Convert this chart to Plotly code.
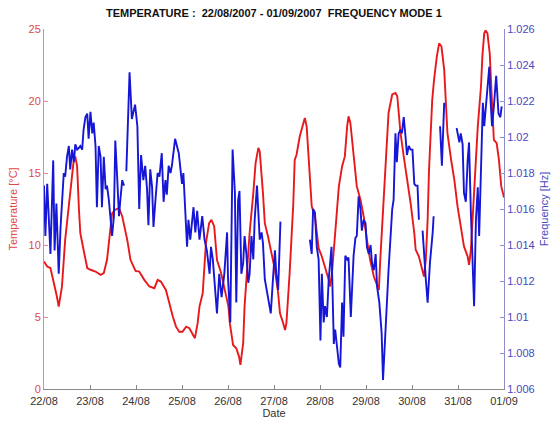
import pandas as pd
import plotly.graph_objects as go

# Days elapsed since 22/08/2007 00:00 and air temperature [°C]
temp_day = [0.00, 0.07, 0.14, 0.21, 0.28, 0.32, 0.39, 0.46, 0.54, 0.61, 0.65, 0.68, 0.72, 0.76, 0.79,
            0.86, 0.94, 1.01, 1.12, 1.23, 1.30, 1.37, 1.44, 1.48, 1.55, 1.63, 1.70, 1.81, 1.88, 1.99,
            2.07, 2.18, 2.29, 2.40, 2.47, 2.54, 2.65, 2.72, 2.80, 2.87, 2.94, 3.01, 3.09, 3.16, 3.23,
            3.28, 3.34, 3.38, 3.45, 3.49, 3.52, 3.59, 3.64, 3.70, 3.76, 3.85, 3.92, 4.01, 4.04, 4.11,
            4.18, 4.24, 4.27, 4.33, 4.36, 4.40, 4.47, 4.55, 4.60, 4.66, 4.69, 4.76, 4.80, 4.87, 4.95,
            5.02, 5.09, 5.13, 5.20, 5.24, 5.27, 5.34, 5.42, 5.45, 5.49, 5.56, 5.64, 5.67, 5.71, 5.77,
            5.82, 5.89, 5.97, 6.04, 6.11, 6.19, 6.22, 6.26, 6.33, 6.41, 6.48, 6.54, 6.59, 6.62, 6.66,
            6.73, 6.80, 6.88, 6.95, 7.02, 7.09, 7.17, 7.24, 7.28, 7.31, 7.39, 7.46, 7.49, 7.57, 7.64,
            7.68, 7.75, 7.82, 7.89, 7.97, 8.05, 8.08, 8.15, 8.23, 8.26, 8.30, 8.34, 8.37, 8.41, 8.44,
            8.48, 8.54, 8.59, 8.64, 8.70, 8.73, 8.77, 8.85, 8.92, 8.99, 9.06, 9.13, 9.21, 9.24, 9.28,
            9.35, 9.39, 9.43, 9.50, 9.53, 9.57, 9.60, 9.64, 9.69, 9.74, 9.78, 9.84, 9.89, 9.94, 10.00]
temperature = [8.85, 8.5, 8.4, 7.46, 6.42, 5.72, 7.1, 10.36, 12.9, 15.2, 16.0, 16.15, 15.46, 12.45, 10.8,
               9.67, 8.4, 8.28, 8.16, 7.93, 8.05, 8.97, 10.83, 12.2, 12.45, 12.57, 12.0, 10.36, 8.97, 8.2,
               8.16, 7.58, 7.12, 7.0, 7.58, 7.46, 6.88, 5.96, 5.03, 4.33, 3.98, 3.98, 4.33, 4.22, 3.76,
               3.53, 4.57, 5.72, 6.65, 8.5, 10.13, 11.52, 11.75, 11.29, 8.97, 8.05, 7.12, 5.72, 4.57, 3.06,
               2.83, 2.25, 1.67, 3.18, 5.72, 7.81, 10.83, 13.6, 15.7, 16.74, 16.5, 13.6, 11.52, 10.59, 9.44,
               8.28, 6.65, 5.26, 4.57, 4.1, 4.57, 8.05, 12.9, 15.9, 16.27, 17.55, 18.48, 18.82, 18.24, 15.46,
               12.68, 11.98, 9.78, 9.2, 8.5, 7.58, 7.12, 8.05, 10.83, 14.07, 15.46, 16.15, 18.24, 18.94, 18.48,
               16.15, 14.07, 13.14, 11.98, 10.36, 8.97, 7.81, 7.12, 6.88, 8.97, 13.6, 17.32, 19.17, 20.45, 20.56,
               20.33, 17.78, 16.15, 14.76, 12.9, 10.83, 9.67, 9.2, 8.28, 7.81, 8.97, 11.75, 15.23, 18.0, 20.1,
               21.49, 23.1, 24.0, 23.8, 22.18, 19.87, 17.78, 15.92, 14.53, 12.68, 11.29, 9.9, 9.2, 8.62, 9.67,
               13.6, 15.92, 18.24, 21.02, 23.1, 24.7, 24.9, 24.7, 23.3, 19.87, 17.3, 17.08, 15.92, 14.07, 13.3]

# Days elapsed and first-mode frequency [Hz]; None marks missing records
freq_day = [0.00, 0.03, 0.07, 0.10, 0.14, 0.20, 0.23, 0.27, 0.32, 0.36, 0.39, 0.43, 0.46, 0.50, 0.54,
            0.57, 0.61, 0.65, 0.68, 0.72, 0.76, 0.79, 0.83, 0.86, 0.90, 0.94, 0.97, 1.01, 1.05, 1.08,
            1.12, 1.15, 1.19, 1.23, 1.26, 1.30, 1.34, 1.37, 1.41, 1.44, 1.48, 1.52, 1.55, 1.59, 1.63,
            1.66, 1.70, 1.74, 1.76, 1.79, 1.86, 1.91, 1.98, 2.03, 2.07, 2.11, 2.16, 2.20, 2.24, 2.27,
            2.31, 2.35, 2.38, 2.42, 2.47, 2.51, 2.56, 2.60, 2.64, 2.67, 2.71, 2.75, 2.78, 2.85, 2.93,
            3.00, 3.03, 3.11, 3.14, 3.18, 3.25, 3.29, 3.33, 3.38, 3.44, 3.49, 3.54, 3.60, 3.63, 3.67,
            3.70, 3.76, 3.81, 3.86, 3.92, 3.98, 4.00, 4.05, 4.10, 4.15, 4.18, 4.22, 4.25, 4.29, 4.33,
            4.36, 4.40, 4.44, 4.47, 4.51, 4.55, 4.58, 4.63, 4.66, 4.69, 4.73, 4.76, 4.80, 4.87, 4.93,
            4.98, 5.02, 5.05, 5.09, 5.14, 5.50, 5.78, 5.82, 5.85, 5.89, 5.93, 5.97, 6.01, 6.04, 6.08,
            6.11, 6.15, 6.19, 6.25, 6.30, 6.33, 6.37, 6.41, 6.44, 6.48, 6.51, 6.55, 6.59, 6.62, 6.67,
            6.73, 6.77, 6.80, 6.84, 6.88, 6.91, 6.95, 6.99, 7.02, 7.06, 7.10, 7.13, 7.17, 7.21, 7.24,
            7.29, 7.34, 7.37, 7.42, 7.49, 7.57, 7.60, 7.64, 7.67, 7.71, 7.75, 7.78, 7.82, 7.86, 7.89,
            7.93, 7.97, 8.01, 8.05, 8.08, 8.12, 8.15, 8.19, 8.23, 8.26, 8.30, 8.34, 8.39, 8.45, 8.47,
            8.54, 8.61, 8.65, 8.70, 8.84, 8.97, 8.99, 9.03, 9.06, 9.10, 9.13, 9.17, 9.21, 9.24, 9.28,
            9.32, 9.35, 9.39, 9.43, 9.46, 9.50, 9.54, 9.57, 9.61, 9.64, 9.68, 9.70, 9.74, 9.78, 9.83,
            9.88, 9.92, 9.95]
frequency = [1.0173, 1.0145, 1.0174, 1.0154, 1.0135, 1.0187, 1.0137, 1.0163, 1.0124, 1.0150, 1.0161, 1.0180, 1.0178, 1.0189, 1.0195,
             1.0182, 1.0193, 1.0186, 1.0196, 1.0193, 1.0194, 1.0195, 1.0193, 1.0204, 1.0211, 1.0213, 1.0199, 1.0214, 1.0202, 1.0208,
             1.0195, 1.0161, 1.0195, 1.0189, 1.0161, 1.0189, 1.0171, 1.0173, 1.0165, 1.0156, 1.0145, 1.0156, 1.0198, 1.0178, 1.0156,
             1.0165, 1.0176, 1.0173, None, 1.0181, 1.0236, 1.0210, 1.0218, 1.0206, 1.0160, 1.0190, 1.0176, 1.0184, 1.0171, 1.0151,
             1.0182, 1.0172, 1.0150, 1.0164, 1.0180, 1.0178, 1.0191, 1.0164, 1.0176, 1.0168, 1.0184, 1.0180, 1.0184, 1.0199, 1.0191,
             1.0174, 1.0180, 1.0139, 1.0154, 1.0143, 1.0161, 1.0147, 1.0159, 1.0143, 1.0156, 1.0143, 1.0137, 1.0124, 1.0139, 1.0132,
             1.0122, 1.0102, 1.0124, 1.0111, 1.0124, 1.0147, 1.0122, 1.0097, 1.0193, 1.0169, 1.0108, 1.0165, 1.0170, 1.0124, 1.0130,
             1.0145, 1.0135, 1.0119, 1.0124, 1.0145, 1.0132, 1.0154, 1.0173, 1.0160, 1.0143, 1.0147, 1.0141, 1.0121, 1.0111, 1.0102,
             1.0122, 1.0137, 1.0124, 1.0115, 1.0153, None, 1.0143, 1.0135, 1.0160, 1.0158, 1.0139, 1.0132, 1.0087, 1.0124, 1.0097,
             1.0106, 1.0100, 1.0121, 1.0139, 1.0085, 1.0093, 1.0084, 1.0074, 1.0072, 1.0108, 1.0089, 1.0134, 1.0132, 1.0133, 1.0100,
             1.0134, 1.0144, 1.0145, 1.0167, 1.0160, 1.0148, 1.0154, 1.0152, 1.0139, 1.0135, 1.0140, 1.0130, 1.0126, 1.0135, 1.0117,
             1.0108, 1.0091, 1.0065, 1.0093, 1.0126, 1.0160, 1.0165, 1.0202, 1.0186, 1.0202, 1.0204, 1.0202, 1.0211, 1.0200, 1.0190,
             1.0195, 1.0193, 1.0193, 1.0174, 1.0173, 1.0173, 1.0154, None, 1.0148, 1.0135, 1.0121, 1.0108, 1.0130, 1.0147, 1.0156,
             None, 1.0206, 1.0184, 1.0219, None, 1.0205, 1.0202, 1.0197, 1.0202, 1.0196, 1.0169, 1.0164, 1.0187, 1.0197, 1.0158,
             1.0132, 1.0106, 1.0154, 1.0172, 1.0145, 1.0178, 1.0219, 1.0206, 1.0217, 1.0226, 1.0239, 1.0224, 1.0206, 1.0217, 1.0234,
             1.0213, 1.0211, 1.0217]

date_ticks = ["22/08", "23/08", "24/08", "25/08", "26/08", "27/08", "28/08", "29/08", "30/08", "31/08", "01/09"]
temp_ticks = [0, 5, 10, 15, 20, 25]
freq_ticks = [1.006, 1.008, 1.010, 1.012, 1.014, 1.016, 1.018, 1.020, 1.022, 1.024, 1.026]
freq_tick_text = ["1.006", "1.008", "1.01", "1.012", "1.014", "1.016", "1.018", "1.02", "1.022", "1.024", "1.026"]

start = pd.Timestamp("2007-08-22")
temp_time = start + pd.to_timedelta(temp_day, unit="D")
freq_time = start + pd.to_timedelta(freq_day, unit="D")
tick_time = pd.date_range(start, periods=len(date_ticks), freq="D")

RED = "#e8191b"
BLUE = "#1616d6"
FONT = "Liberation Sans, Arial, sans-serif"

fig = go.Figure()
fig.add_trace(go.Scatter(x=temp_time, y=temperature, mode="lines",
                         line=dict(color=RED, width=1.9), yaxis="y", showlegend=False))
fig.add_trace(go.Scatter(x=freq_time, y=frequency, mode="lines", connectgaps=False,
                         line=dict(color=BLUE, width=1.9), yaxis="y2", showlegend=False))

fig.update_layout(
    width=551, height=421,
    margin=dict(l=44, r=47, t=29, b=32),
    paper_bgcolor="white", plot_bgcolor="white",
    font=dict(family=FONT, size=11, color="#222222"),
    title=dict(text="TEMPERATURE :\u00a0\u00a022/08/2007 - 01/09/2007\u00a0\u00a0FREQUENCY MODE 1",
               x=0.497, xanchor="center", y=0.968, yanchor="middle",
               font=dict(family=FONT, size=11, color="#111111", weight="bold")),
    xaxis=dict(
        range=[start, tick_time[-1]], tickvals=tick_time, ticktext=date_ticks,
        automargin=False,
        showgrid=False, zeroline=False, showline=True, linecolor="#8a8a8a", linewidth=1,
        ticks="inside", ticklen=4, tickcolor="#8a8a8a", ticklabelstandoff=2,
        tickfont=dict(size=11, color="#333333"),
        title=dict(text="Date", font=dict(size=11, color="#333333"), standoff=1),
    ),
    yaxis=dict(
        range=[0, 25], tickvals=temp_ticks, automargin=False,
        showgrid=False, zeroline=False,
        showline=True, linecolor="#e88a8a", linewidth=1,
        ticks="inside", ticklen=4, tickcolor="#e88a8a",
        tickfont=dict(size=11, color="#e04848"),
        title=dict(text="Temperature [°C]", font=dict(size=11, color="#e04848"), standoff=8),
    ),
    yaxis2=dict(
        range=[1.006, 1.026], tickvals=freq_ticks, ticktext=freq_tick_text,
        overlaying="y", side="right", automargin=False,
        showgrid=False, zeroline=False,
        showline=True, linecolor="#9090c8", linewidth=1,
        ticks="inside", ticklen=4, tickcolor="#9090c8",
        tickfont=dict(size=11, color="#4848c0"),
        title=dict(text="Frequency [Hz]", font=dict(size=11, color="#4848c0"), standoff=6),
    ),
)

fig.write_html("out.html")
